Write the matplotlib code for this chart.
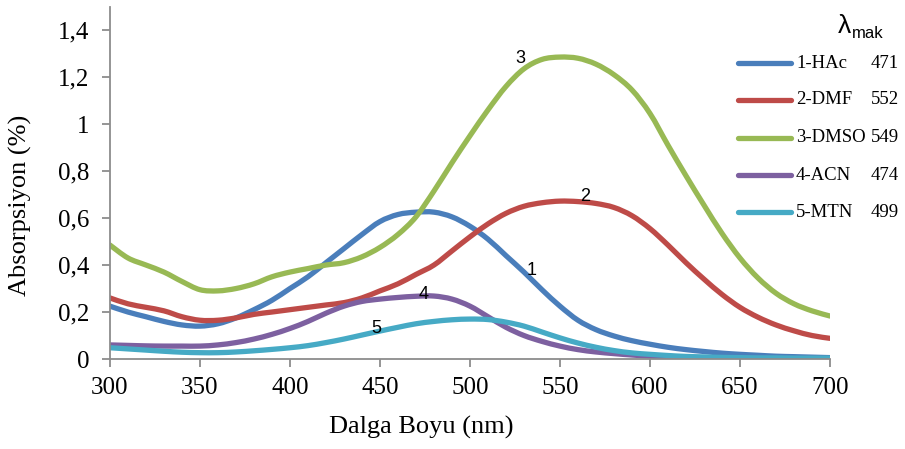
import numpy as np
import matplotlib
matplotlib.use('Agg')
import matplotlib.pyplot as plt
from matplotlib.lines import Line2D
from matplotlib.path import Path
from matplotlib.patches import PathPatch

# wavelength grid (nm)
wl = list(range(300, 701, 10))

hac = [0.225, 0.20, 0.18, 0.16, 0.145, 0.14, 0.15, 0.175, 0.21, 0.25,
       0.30, 0.35, 0.41, 0.47, 0.53, 0.585, 0.615, 0.625, 0.625, 0.605,
       0.565, 0.51, 0.44, 0.37, 0.295, 0.225, 0.165, 0.125, 0.098, 0.078,
       0.063, 0.05, 0.04, 0.032, 0.025, 0.02, 0.016, 0.012, 0.01, 0.008, 0.006]

dmf = [0.26, 0.235, 0.22, 0.205, 0.18, 0.165, 0.165, 0.175, 0.19, 0.20,
       0.21, 0.22, 0.23, 0.24, 0.26, 0.29, 0.32, 0.36, 0.40, 0.46,
       0.52, 0.575, 0.62, 0.65, 0.665, 0.672, 0.67, 0.662, 0.645, 0.61,
       0.555, 0.485, 0.41, 0.34, 0.275, 0.22, 0.178, 0.145, 0.12, 0.10, 0.088]

dmso = [0.485, 0.43, 0.40, 0.37, 0.33, 0.295, 0.29, 0.30, 0.32, 0.35,
        0.37, 0.385, 0.40, 0.41, 0.435, 0.475, 0.53, 0.605, 0.715, 0.835,
        0.95, 1.06, 1.16, 1.235, 1.275, 1.285, 1.28, 1.255, 1.21, 1.145,
        1.045, 0.91, 0.78, 0.655, 0.535, 0.43, 0.345, 0.28, 0.235, 0.205, 0.183]

acn = [0.06, 0.058, 0.056, 0.055, 0.055, 0.055, 0.06, 0.07, 0.085, 0.105,
       0.13, 0.16, 0.195, 0.225, 0.245, 0.255, 0.262, 0.267, 0.268, 0.255,
       0.225, 0.18, 0.135, 0.10, 0.075, 0.055, 0.04, 0.03, 0.023, 0.017,
       0.012, 0.009, 0.007, 0.005, 0.004, 0.003, 0.003, 0.002, 0.002, 0.002, 0.002]

mtn = [0.048, 0.043, 0.038, 0.033, 0.029, 0.027, 0.027, 0.03, 0.035, 0.041,
       0.048, 0.057, 0.07, 0.085, 0.102, 0.119, 0.135, 0.15, 0.16, 0.167,
       0.17, 0.168, 0.157, 0.14, 0.115, 0.09, 0.068, 0.05, 0.036, 0.026,
       0.02, 0.015, 0.011, 0.009, 0.007, 0.006, 0.005, 0.005, 0.004, 0.004, 0.004]

series = [hac, dmf, dmso, acn, mtn]
names = ['1-HAc', '2-DMF', '3-DMSO', '4-ACN', '5-MTN']
lam_max = ['471', '552', '549', '474', '499']
colors = ['#4A7EBB', '#BE4B48', '#98B954', '#7D60A0', '#46AAC5']

# curve number labels (x, y, text)
tag_x = [534, 564, 528, 474, 448]
tag_y = [0.375, 0.69, 1.28, 0.275, 0.13]
tags = ['1', '2', '3', '4', '5']

yticks = [0, 0.2, 0.4, 0.6, 0.8, 1.0, 1.2, 1.4]
ytick_labels = ['0', '0,2', '0,4', '0,6', '0,8', '1', '1,2', '1,4']
xticks = [300, 350, 400, 450, 500, 550, 600, 650, 700]

serif = 'Liberation Serif'
sans = 'Liberation Sans'


def smooth_path(xs, ys):
    # Excel-style smoothed line: bezier segments through every data point
    p = np.column_stack([xs, ys]).astype(float)
    n = len(p)
    verts = [p[0]]
    codes = [Path.MOVETO]
    for i in range(n - 1):
        p0 = p[max(i - 1, 0)]
        p1 = p[i]
        p2 = p[i + 1]
        p3 = p[min(i + 2, n - 1)]
        verts += [p1 + (p2 - p0) / 6, p2 - (p3 - p1) / 6, p2]
        codes += [Path.CURVE4] * 3
    return Path(verts, codes)


fig = plt.figure(figsize=(9.05, 4.49), dpi=100)
ax = fig.add_axes([0.1215, 0.2004, 0.7956, 0.785])

for y, c in zip(series, colors):
    ax.add_patch(PathPatch(smooth_path(wl, y), fill=False, edgecolor=c, lw=3.8,
                           capstyle='round', joinstyle='round'))

for tx, ty, t in zip(tag_x, tag_y, tags):
    ax.text(tx, ty, t, fontsize=13, family=sans, ha='center', va='center', color='black')

ax.set_xlim(300, 700)
ax.set_ylim(0, 1.5)
ax.set_xticks(xticks)
ax.set_yticks(yticks)
ax.set_yticklabels(ytick_labels)
for s in ['top', 'right']:
    ax.spines[s].set_visible(False)
for s in ['left', 'bottom']:
    ax.spines[s].set_color('#8c8c8c')
    ax.spines[s].set_linewidth(1.3)
ax.tick_params(axis='both', colors='#8c8c8c', length=6, width=1.3, labelcolor='black',
               labelsize=18)
ax.tick_params(axis='y', pad=9)
ax.tick_params(axis='x', pad=7)
for lab in ax.get_xticklabels() + ax.get_yticklabels():
    lab.set_family(serif)

ax.set_xlabel('Dalga Boyu (nm)', family=serif, fontsize=19)
ax.set_ylabel('Absorpsiyon (%)', family=serif, fontsize=19)
ax.xaxis.set_label_coords(0.432, -0.16)
ax.yaxis.set_label_coords(-0.108, 0.435)

# legend drawn in figure pixels
W, H = 905, 449
row_y = [63, 100, 138, 175, 212]
for ry, n, lm, c in zip(row_y, names, lam_max, colors):
    fig.add_artist(Line2D([738 / W, 791 / W], [1 - ry / H, 1 - ry / H], color=c, lw=3.8,
                          solid_capstyle='round'))
    fig.text(796 / W, 1 - ry / H, n, family=serif, fontsize=13.5, va='center', ha='left')
    fig.text(899 / W, 1 - ry / H, lm, family=serif, fontsize=13.5, va='center', ha='right')

fig.text(838 / W, 1 - 33 / H, 'λ', family=sans, fontsize=19, va='baseline', ha='left')
fig.text(852 / W, 1 - 38 / H, 'mak', family=sans, fontsize=12, va='baseline', ha='left')

fig.savefig('out.png', dpi=100)
